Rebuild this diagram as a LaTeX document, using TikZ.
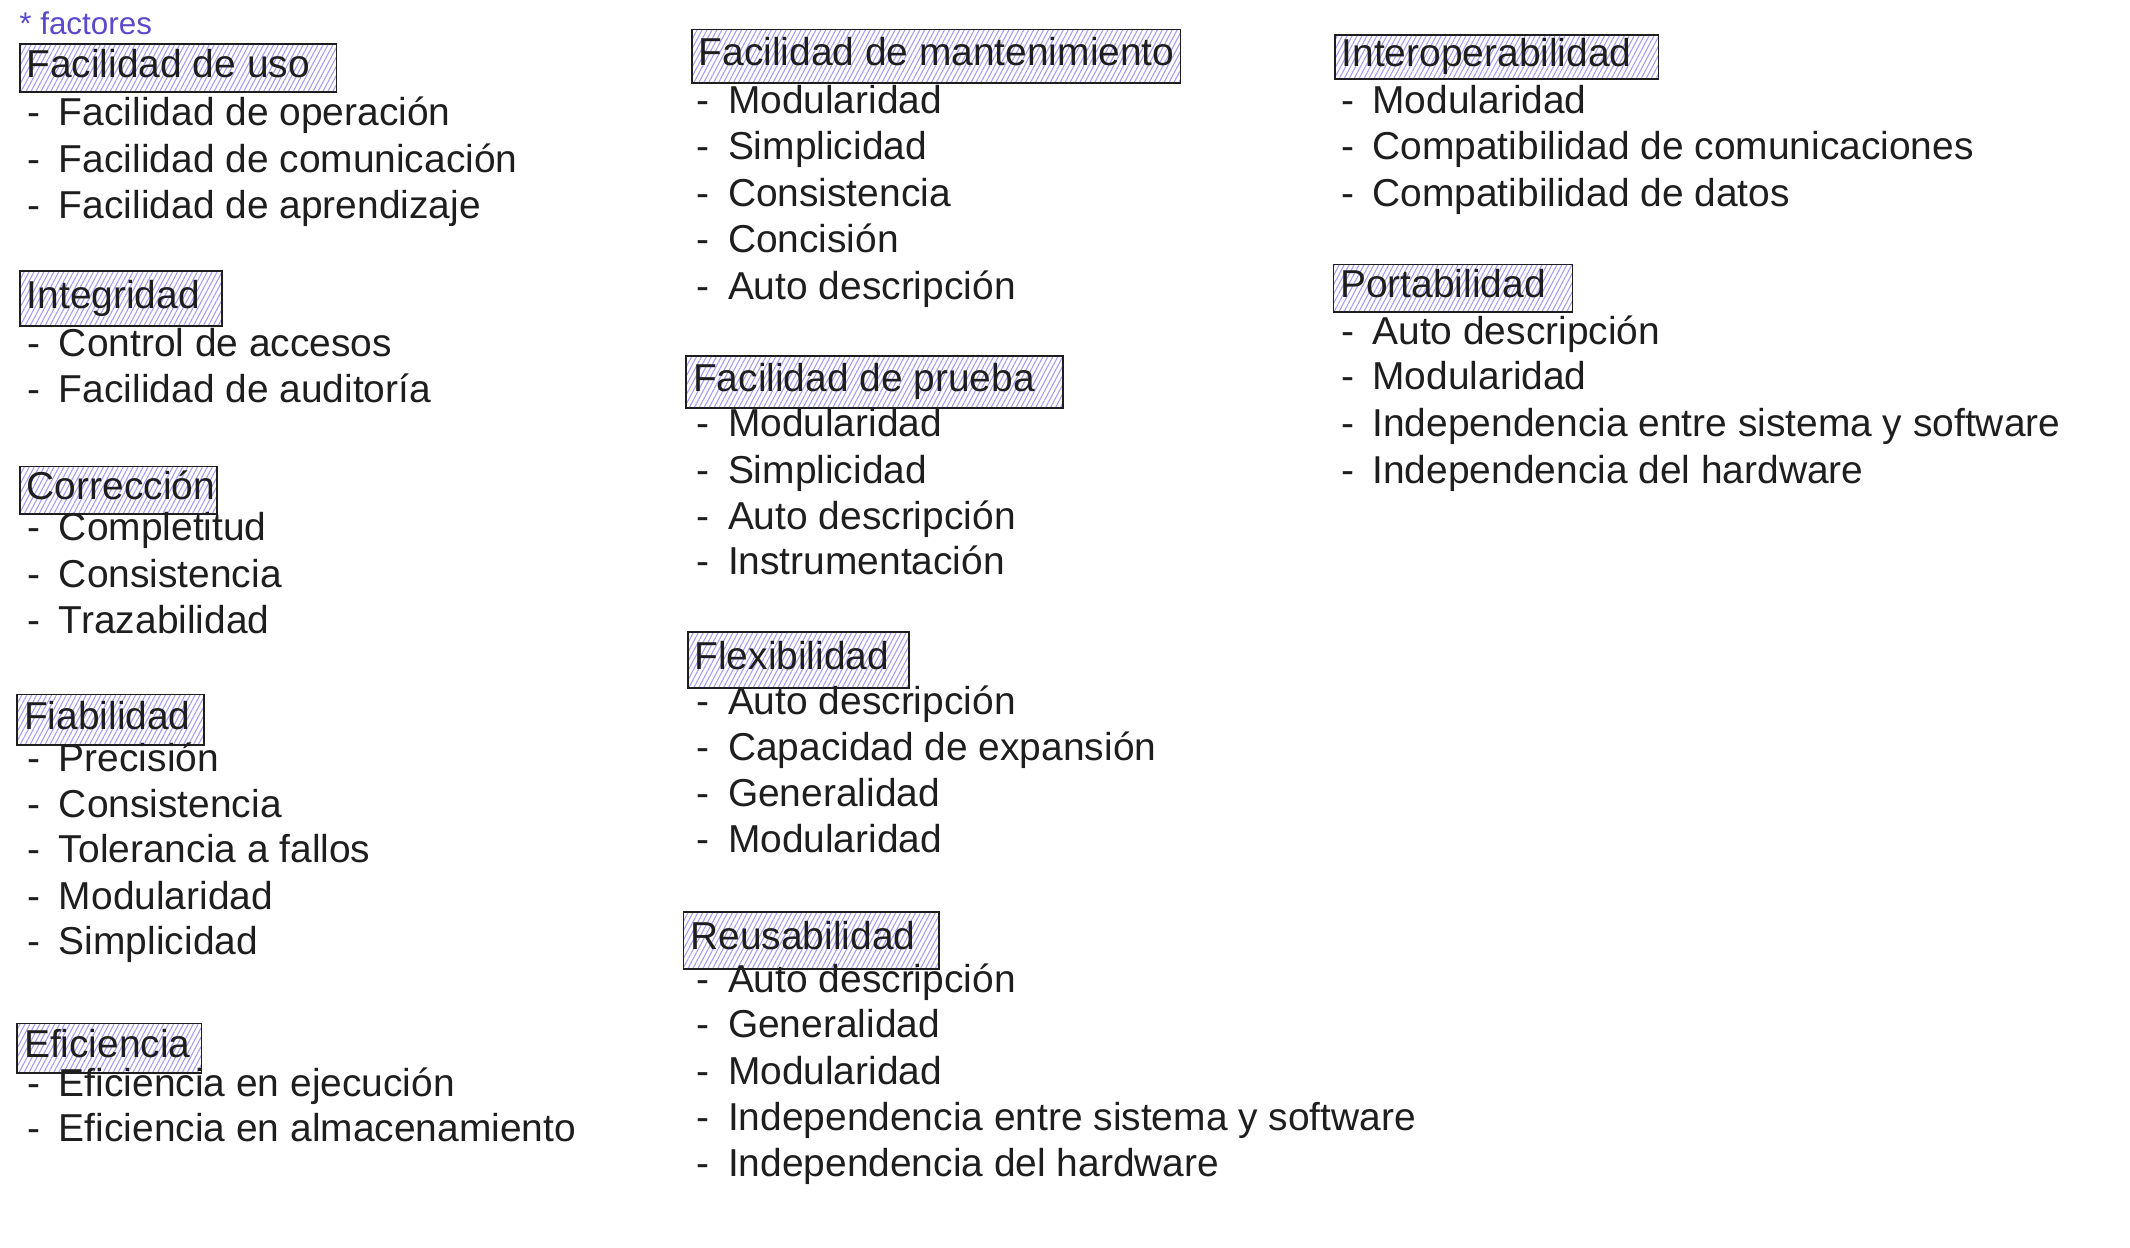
\documentclass[tikz,border=0pt]{standalone}
\usepackage{fontspec}
\setmainfont{Liberation Sans}
\usetikzlibrary{patterns.meta}
\definecolor{ink}{HTML}{1E1E1E}
\definecolor{hatch}{HTML}{A89DF5}
\definecolor{accent}{HTML}{5B4ACB}
\newcommand\Hdr[6]{%
  \pgfmathsetmacro\hw{#4-#2-10}\pgfmathsetmacro\hh{#5-#3}%
  \node[hdr, minimum height=\hh pt] (#1) at (#2,#3) {\makebox[\hw pt][l]{#6}};}
\newcommand\Itm[4]{\node[itm] (#1) at (#2,#3+9) {\makebox[23pt][l]{-}#4};}
\begin{document}
\begin{tikzpicture}[x=1pt,y=-1pt,
  hdr/.style={draw=ink, line width=1.3pt,
    pattern={Lines[angle=62,distance=3.2pt,line width=0.8pt]}, pattern color=hatch,
    anchor=north west, inner xsep=5pt, inner ysep=0pt,
    text height=20pt, text depth=6pt, font=\fontsize{28.5}{34}\selectfont, text=ink},
  itm/.style={anchor=base west, inner sep=0pt, font=\fontsize{28.5}{34}\selectfont, text=ink},
  note/.style={anchor=base west, inner sep=0pt, font=\fontsize{23}{28}\selectfont, text=accent}]
\fill[white] (0,0) rectangle (1560,914);
\useasboundingbox (0,0) rectangle (1560,914);

\node[note] (factores) at (14,25) {* factores};

% column 1
\Hdr{uso}{14}{32}{246}{67}{Facilidad de uso}
\Itm{u1}{20}{83}{Facilidad de operación}
\Itm{u2}{20}{117}{Facilidad de comunicación}
\Itm{u3}{20}{151}{Facilidad de aprendizaje}

\Hdr{integ}{14}{198}{162}{238}{Integridad}
\Itm{i1}{20}{252}{Control de accesos}
\Itm{i2}{20}{286}{Facilidad de auditoría}

\Hdr{corr}{14}{341}{158}{376}{Corrección}
\Itm{c1}{20}{387}{Completitud}
\Itm{c2}{20}{421}{Consistencia}
\Itm{c3}{20}{455}{Trazabilidad}

\Hdr{fiab}{12}{508}{149}{545}{Fiabilidad}
\Itm{f1}{20}{556}{Precisión}
\Itm{f2}{20}{590}{Consistencia}
\Itm{f3}{20}{623}{Tolerancia a fallos}
\Itm{f4}{20}{657}{Modularidad}
\Itm{f5}{20}{690}{Simplicidad}

\Hdr{efic}{12}{749}{147}{785}{Eficiencia}
\Itm{e1}{20}{794}{Eficiencia en ejecución}
\Itm{e2}{20}{827}{Eficiencia en almacenamiento}

% column 2
\Hdr{mant}{506}{21}{864}{60}{Facilidad de mantenimiento}
\Itm{m1}{510}{74}{Modularidad}
\Itm{m2}{510}{108}{Simplicidad}
\Itm{m3}{510}{142}{Consistencia}
\Itm{m4}{510}{176}{Concisión}
\Itm{m5}{510}{210}{Auto descripción}

\Hdr{prueba}{502}{260}{778}{298}{Facilidad de prueba}
\Itm{p1}{510}{311}{Modularidad}
\Itm{p2}{510}{345}{Simplicidad}
\Itm{p3}{510}{379}{Auto descripción}
\Itm{p4}{510}{412}{Instrumentación}

\Hdr{flex}{503}{462}{665}{503}{Flexibilidad}
\Itm{x1}{510}{514}{Auto descripción}
\Itm{x2}{510}{548}{Capacidad de expansión}
\Itm{x3}{510}{582}{Generalidad}
\Itm{x4}{510}{615}{Modularidad}

\Hdr{reus}{500}{667}{687}{709}{Reusabilidad}
\Itm{r1}{510}{718}{Auto descripción}
\Itm{r2}{510}{751}{Generalidad}
\Itm{r3}{510}{785}{Modularidad}
\Itm{r4}{510}{819}{Independencia entre sistema y software}
\Itm{r5}{510}{853}{Independencia del hardware}

% column 3
\Hdr{inter}{977}{25}{1214}{57}{Interoperabilidad}
\Itm{n1}{982}{74}{Modularidad}
\Itm{n2}{982}{108}{Compatibilidad de comunicaciones}
\Itm{n3}{982}{142}{Compatibilidad de datos}

\Hdr{port}{976}{193}{1151}{228}{Portabilidad}
\Itm{t1}{982}{243}{Auto descripción}
\Itm{t2}{982}{276}{Modularidad}
\Itm{t3}{982}{311}{Independencia entre sistema y software}
\Itm{t4}{982}{345}{Independencia del hardware}
\end{tikzpicture}
\end{document}
